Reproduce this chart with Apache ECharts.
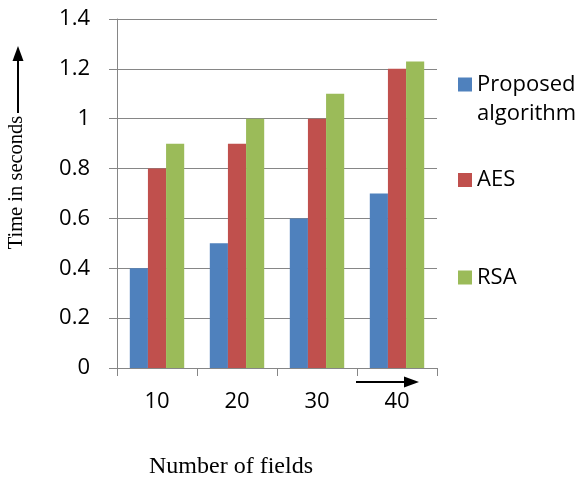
<!DOCTYPE html>
<html>
<head>
<meta charset="utf-8">
<script src="https://cdn.jsdelivr.net/npm/echarts@6/dist/echarts.min.js"></script>
<style>html,body{margin:0;padding:0;background:#fff}#c{width:580px;height:477px}</style>
</head>
<body>
<div id="c"></div>
<script>
const categories = ['10', '20', '30', '40'];
const proposed = [0.4, 0.5, 0.6, 0.7];
const aes = [0.8, 0.9, 1.0, 1.2];
const rsa = [0.9, 1.0, 1.1, 1.23];
const yTicks = [0, 0.2, 0.4, 0.6, 0.8, 1, 1.2, 1.4];

const chart = echarts.init(document.getElementById('c'), null, {renderer: 'canvas'});
const sans = '"Open Sans", sans-serif';
const serif = '"Liberation Serif", "Times New Roman", serif';
const gray = '#868686';

function legendFor(name, top, text) {
  const multi = text.indexOf('\n') >= 0;
  return {
    orient: 'vertical', left: 458, top: top, padding: 0,
    data: [name],
    icon: multi ? 'path://M0,0L14,0L14,14L0,14Z M0,43' : 'rect',
    itemWidth: 14, itemHeight: multi ? 43 : 14, itemGap: 0,
    formatter: () => text,
    textStyle: {fontFamily: sans, fontSize: 22, color: '#000', lineHeight: 29}
  };
}

chart.setOption({
  animation: false,
  grid: {left: 117, top: 19, right: 143, bottom: 109, containLabel: false, outerBoundsMode: 'none'},
  legend: [
    legendFor('Proposed algorithm', 70, 'Proposed\nalgorithm'),
    legendFor('AES', 165.5, 'AES'),
    legendFor('RSA', 263, 'RSA')
  ],
  xAxis: {
    type: 'category', data: categories,
    axisLine: {show: true, lineStyle: {color: gray, width: 1}},
    axisTick: {show: true, length: 8, lineStyle: {color: gray}},
    axisLabel: {fontFamily: sans, fontSize: 22, color: '#000', margin: 23},
    name: 'Number of fields', nameLocation: 'middle', nameGap: 87,
    nameTextStyle: {fontFamily: serif, fontSize: 24, color: '#000', padding: [0, 92, 0, 0]}
  },
  yAxis: {
    type: 'value', min: 0, max: 1.4, interval: 0.2,
    axisLine: {show: true, lineStyle: {color: gray, width: 1}},
    axisTick: {show: true, length: 8, lineStyle: {color: gray}},
    splitLine: {show: true, lineStyle: {color: gray, width: 1}},
    axisLabel: {fontFamily: sans, fontSize: 22, color: '#000', margin: 27,
      formatter: v => { const t = yTicks.find(x => Math.abs(x - v) < 1e-9); return String(t !== undefined ? t : v); }},
    name: 'Time in seconds', nameLocation: 'middle', nameGap: 90, nameRotate: 90,
    nameTextStyle: {fontFamily: serif, fontSize: 20.5, color: '#000', padding: [0, 0, 0, 22]}
  },
  series: [
    {name: 'Proposed algorithm', type: 'bar', data: proposed, itemStyle: {color: '#4F81BD'}, barGap: '0%', barCategoryGap: '32%'},
    {name: 'AES', type: 'bar', data: aes, itemStyle: {color: '#C0504D'}, barGap: '0%', barCategoryGap: '32%'},
    {name: 'RSA', type: 'bar', data: rsa, itemStyle: {color: '#9BBB59'}, barGap: '0%', barCategoryGap: '32%'}
  ],
  graphic: [
    {type: 'line', shape: {x1: 18, y1: 113, x2: 18, y2: 58}, style: {stroke: '#000', lineWidth: 2}},
    {type: 'polygon', shape: {points: [[18, 46], [12.5, 61], [23.5, 61]]}, style: {fill: '#000'}},
    {type: 'line', shape: {x1: 356, y1: 382, x2: 406, y2: 382}, style: {stroke: '#000', lineWidth: 2}},
    {type: 'polygon', shape: {points: [[419, 382], [404, 376.5], [404, 387.5]]}, style: {fill: '#000'}}
  ]
});
</script>
</body>
</html>
